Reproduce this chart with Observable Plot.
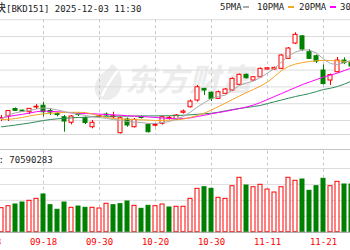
<!DOCTYPE html>
<html><head><meta charset="utf-8">
<script src="https://cdn.jsdelivr.net/npm/d3@7"></script>
<script src="https://cdn.jsdelivr.net/npm/@observablehq/plot@0.6"></script>
<style>
html,body{margin:0;padding:0;background:#fff;}
#wrap{position:relative;width:350px;height:250px;overflow:hidden;background:#fff;}
.t{position:absolute;font-family:"DejaVu Sans Mono",monospace;font-size:9px;line-height:9px;color:#222;white-space:pre;}
.cjk{font-family:"Noto Sans CJK SC";font-size:11px;}
.dash{position:absolute;height:2px;width:6px;top:6px;}
#wm{position:absolute;left:125px;top:58px;font-family:"Noto Sans CJK SC";font-weight:bold;font-style:oblique;font-size:31px;line-height:40px;color:#ececec;letter-spacing:1px;white-space:pre;}
#logo{position:absolute;left:92px;top:62px;}
#main,#vol{position:absolute;left:0;}
#main{top:0;} #vol{top:134px;}
</style></head>
<body><div id="wrap">
<svg id="logo" width="34" height="40" viewBox="0 0 34 40"><path d="M20 2 C30 8 33 22 26 32 C20 40 8 40 4 32 C0 24 6 14 12 10 C16 7 18 5 20 2 Z" fill="#ececec"/><path d="M10 34 C14 24 20 16 26 8" stroke="#fff" stroke-width="2.5" fill="none"/></svg>
<div id="wm">东方财富</div>
<div id="main"></div>
<div id="vol"></div>
<div class="t" style="left:-5px;top:3px"><span class="cjk">快</span>[BKD151] 2025-12-03 11:30</div>
<div class="t" style="left:220px;top:3px">5PMA</div>
<div class="dash" style="left:243px;background:#aaaaaa"></div>
<div class="t" style="left:257px;top:3px">10PMA</div>
<div class="dash" style="left:288px;background:#f5a623"></div>
<div class="t" style="left:299px;top:3px">20PMA</div>
<div class="dash" style="left:330px;background:#ff00ff"></div>
<div class="t" style="left:340px;top:3px">30PMA</div>
<div class="t" style="left:-1.5px;top:155.7px">: 70590283</div>
</div>
<script>
const dates = ["09-08","09-09","09-10","09-11","09-12","09-15","09-16","09-17","09-18","09-19","09-22","09-23","09-24","09-25","09-26","09-29","09-30",
"10-09","10-10","10-13","10-14","10-15","10-16","10-17","10-20","10-21","10-22","10-23","10-24","10-27","10-28","10-29","10-30","10-31",
"11-03","11-04","11-05","11-06","11-07","11-10","11-11","11-12","11-13","11-14","11-17","11-18","11-19","11-20","11-21","11-24","11-25","11-26","11-27"];
const firstDay = "09-10";
const open = [1002.4,1005.1,1013.7,1011.7,1009.9,1015.5,1017.6,1011.3,1007.7,1003.9,997.3,1007.7,1002.7,992.0,1004.2,1007.1,1003.9,984.9,1001.2,992.0,1004.2,994.9,993.8,996.1,1002.0,1001.2,1009.2,1015.8,1023.8,1037.7,1033.0,1025.8,1031.8,1035.7,1042.5,1054.4,1047.6,1051.5,1060.7,1060.7,1061.5,1073.4,1091.6,1100.2,1081.3,1076.5,1059.5,1047.6,1057.5,1071.4,1069.0];
const close = [1003.0,1011.3,1011.5,1010.7,1013.9,1016.4,1009.9,1009.5,1006.5,998.8,1004.8,1006.5,997.0,997.3,1005.4,1006.0,1005.1,1002.7,994.1,1000.8,1003.0,986.1,995.0,1003.9,1003.2,1006.0,1010.7,1022.6,1039.6,1035.7,1025.8,1033.7,1036.9,1049.6,1054.4,1050.3,1051.5,1061.5,1062.2,1062.7,1077.4,1085.7,1102.0,1084.5,1073.4,1070.2,1043.4,1054.1,1071.4,1068.4,1064.3];
const high = [1006.0,1011.5,1014.9,1012.5,1014.1,1019.0,1021.8,1014.3,1009.2,1006.0,1006.0,1008.9,1004.2,1000.0,1006.5,1008.9,1009.9,1004.2,1003.0,1002.4,1005.4,996.4,996.4,1005.4,1004.8,1007.1,1012.5,1024.4,1041.7,1038.1,1033.9,1035.1,1038.1,1050.6,1055.3,1055.3,1052.4,1062.5,1063.1,1063.4,1078.5,1086.9,1104.4,1101.2,1084.5,1077.9,1066.3,1055.3,1075.0,1074.6,1071.4];
const low = [998.8,998.8,1010.7,1010.1,1007.1,1013.1,1004.2,1006.0,1004.4,986.1,994.9,1004.8,995.2,990.1,1002.4,1004.8,1002.4,983.9,992.0,991.1,1001.8,985.1,992.3,994.6,1000.6,1000.0,1007.7,1014.9,1021.8,1029.8,1022.6,1025.0,1030.9,1034.5,1041.7,1049.4,1046.4,1050.6,1060.1,1060.1,1060.7,1072.6,1090.4,1082.1,1072.6,1067.8,1042.2,1041.7,1056.5,1066.6,1063.1];
const ma5 = [1002.4,1006.5,1009.2,1010.7,1011.9,1013.7,1014.9,1014.3,1012.5,1010.7,1008.9,1007.7,1006.0,1004.4,1003.6,1002.4,1001.2,1000.0,998.8,998.2,997.6,996.4,996.4,997.6,998.8,1001.8,1004.8,1010.1,1016.1,1021.4,1026.2,1028.6,1030.3,1036.3,1041.7,1044.6,1047.0,1051.2,1056.5,1061.9,1069.6,1076.8,1081.5,1083.9,1083.9,1080.3,1073.2,1067.8,1066.6,1069.0,1072.0];
const ma10 = [1001.2,1001.4,1002.4,1003.6,1005.4,1006.8,1008.0,1008.6,1009.2,1009.5,1009.8,1009.8,1009.5,1007.7,1005.4,1003.6,1002.4,1001.8,1001.4,1001.2,1000.8,1000.5,1000.0,1000.0,1000.4,1000.8,1001.8,1003.6,1006.0,1008.9,1012.5,1016.7,1020.8,1025.0,1029.2,1033.3,1036.9,1041.1,1045.8,1052.4,1059.5,1064.3,1067.2,1069.0,1070.2,1071.2,1071.6,1071.4,1071.0,1070.4,1069.6];
const ma20 = [1003.0,1004.8,1006.2,1007.4,1008.9,1010.5,1011.3,1010.9,1010.5,1009.8,1009.2,1008.7,1008.3,1008.0,1007.6,1007.1,1006.8,1006.3,1005.7,1005.2,1004.8,1004.2,1003.6,1003.0,1002.4,1002.0,1002.4,1003.2,1004.8,1006.3,1008.0,1009.5,1010.9,1012.5,1014.3,1016.1,1018.4,1021.4,1025.0,1028.6,1032.1,1035.7,1039.3,1042.8,1045.8,1048.8,1051.8,1054.1,1056.5,1059.5,1062.5];
const ma30 = [992.5,993.5,994.6,995.8,997.0,998.5,1000.0,1001.2,1002.0,1002.6,1003.2,1003.6,1003.9,1004.4,1004.8,1005.0,1005.1,1005.2,1005.2,1005.4,1005.4,1005.5,1005.5,1005.6,1005.7,1006.0,1006.3,1006.8,1007.4,1008.0,1008.7,1009.9,1011.5,1013.1,1014.3,1015.5,1016.7,1017.9,1020.2,1022.3,1024.4,1026.5,1028.6,1030.3,1032.1,1034.5,1036.9,1038.4,1040.5,1043.4,1047.0];
const volume = [37.7,40.8,43.5,46.6,49.3,52.4,59.2,42.4,35.2,46.6,38.3,40.3,38.3,38.3,37.2,44.6,42.4,44.0,48.2,41.4,36.7,41.4,40.8,43.5,38.8,39.9,39.9,52.4,68.1,70.6,68.1,54.0,52.4,72.2,85.4,73.3,70.6,74.4,67.0,62.3,70.6,85.4,80.7,82.7,65.0,72.2,83.8,72.2,79.1,74.9,74.9];
const volDir = [1,1,-1,-1,1,1,-1,-1,-1,-1, 1,-1,-1,1,1,1,-1,-1,-1,1, -1,-1,1,1,-1,1,1,1,1,-1, -1,1,1,1,1,-1,1,1,1,1, 1,1,1,-1,-1,-1,-1,1,1,-1, -1];
const tickLabels = ["09-08","09-18","09-30","10-20","10-30","11-11","11-21"];
const gridPrices = [1000,1020,1040,1060,1080,1100,1120];
const volGrid = [25,50,75,100];

const RED = "#ff0000", GREEN = "#008000";
const first = dates.indexOf(firstDay);
const candles = open.map((o,k)=>({i:k+first, open:o, close:close[k], high:high[k], low:low[k], up: close[k] >= o}));
const vols = volume.map((v,k)=>({i:k+first, v, up: volDir[k] > 0}));
const tickIdx = tickLabels.map(l=>dates.indexOf(l));
const rows = arr => arr.map((v,k)=>({i:k+first, v}));

const xDomain = [13/7, 363/7];
const yDomain = [983, 1120];
const volTop = 129.83;

const main = Plot.plot({
  width:350, height:135, marginTop:19.2, marginBottom:0.7, marginLeft:0, marginRight:0,
  x:{domain:xDomain, axis:null}, y:{domain:yDomain, axis:null}, color:{type:"identity"},
  style:{background:"transparent"},
  marks:[
    Plot.ruleY(gridPrices,{stroke:"#dcdcdc"}),
    Plot.ruleY([yDomain[0]],{stroke:"#c4c4c4"}),
    Plot.ruleX(tickIdx,{stroke:"#c8c8c8", strokeDasharray:"3,3"}),
    Plot.ruleX(candles,{x:"i", y1:"low", y2:"high", stroke:d=>d.up?RED:GREEN}),
    Plot.rect(candles,{x1:d=>d.i-0.5, x2:d=>d.i+0.5, y1:"open", y2:"close", insetLeft:1.5, insetRight:1.5,
      fill:d=>d.up?"#ffffff":GREEN, stroke:d=>d.up?RED:GREEN}),
    Plot.line(rows(ma30),{x:"i", y:"v", stroke:"#2e8b57", strokeWidth:1}),
    Plot.line(rows(ma20),{x:"i", y:"v", stroke:"#ff00ff", strokeWidth:1}),
    Plot.line(rows(ma10),{x:"i", y:"v", stroke:"#f5a623", strokeWidth:1}),
    Plot.line(rows(ma5),{x:"i", y:"v", stroke:"#aaaaaa", strokeWidth:1})
  ]
});
document.getElementById("main").appendChild(main);

const vol = Plot.plot({
  width:350, height:116, marginTop:15, marginBottom:18.3, marginLeft:0, marginRight:0,
  x:{domain:xDomain, axis:null}, y:{domain:[0, volTop], axis:null}, color:{type:"identity"},
  style:{background:"transparent", fontFamily:"DejaVu Sans Mono", fontSize:"9px"},
  marks:[
    Plot.ruleY(volGrid,{stroke:"#dddddd"}),
    Plot.ruleY([volTop],{stroke:"#c4c4c4"}),
    Plot.ruleX(tickIdx,{y1:0, y2:volTop, stroke:"#c8c8c8", strokeDasharray:"3,3"}),
    Plot.rect(vols,{x1:d=>d.i-0.5, x2:d=>d.i+0.5, y1:0, y2:"v", insetLeft:1.5, insetRight:1.5,
      fill:d=>d.up?"#ffffff":GREEN, stroke:d=>d.up?RED:GREEN}),
    Plot.ruleY([0],{stroke:"#999999"}),
    Plot.axisX({ticks:tickIdx, tickFormat:d=>tickLabels[tickIdx.indexOf(d)], tickSize:0, tickPadding:6.2, color:RED, fontSize:9})
  ]
});
document.getElementById("vol").appendChild(vol);
</script>
</body></html>
